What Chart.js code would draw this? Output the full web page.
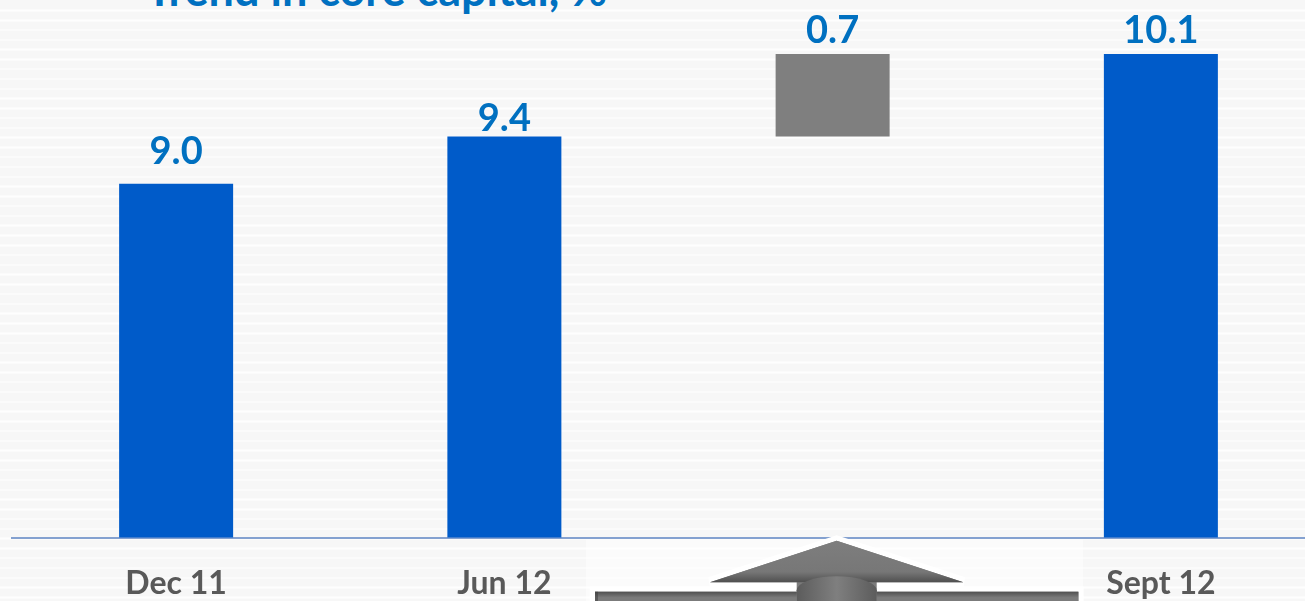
<!DOCTYPE html>
<html>
<head>
<meta charset="utf-8">
<title>Trend in core capital, %</title>
<script src="https://cdn.jsdelivr.net/npm/chart.js@4.4.1/dist/chart.umd.min.js"></script>
<style>
  html, body { margin: 0; padding: 0; width: 1305px; height: 601px; overflow: hidden; }
  body {
    position: relative;
    background-color: #f7f7f7;
    background-image: repeating-linear-gradient(to bottom,
      #f7f7f7 0px, #f7f7f7 8.3px, #fefefe 8.3px, #fefefe 9.78px);
    background-position: 0 1.5px;
  }
  #title {
    position: absolute; left: 146px; top: -33px;
    font: bold 45px Lato, "Open Sans", sans-serif; line-height: 45px;
    color: #0070c0; white-space: nowrap;
  }
  #chart { position: absolute; left: 0; top: 0; }
</style>
</head>
<body>
<div id="title">Trend in core capital, %</div>
<canvas id="chart" width="1330" height="630"></canvas>
<script>
// Core capital ratio by period, %
const categories = ['Dec 11', 'Jun 12', '', 'Sept 12'];
const coreCapital = [9.0, 9.4, null, 10.1];
// Change between Jun 12 and Sept 12, drawn as a floating step
const change = [null, null, 0.7, null];

const changeBars = change.map((v, i) => v == null ? null : [coreCapital[i - 1], coreCapital[i - 1] + v]);

// Figures written above each bar
const valueLabels = {
  id: 'valueLabels',
  afterDatasetsDraw(chart, args, opts) {
    const ctx = chart.ctx;
    ctx.save();
    ctx.font = opts.font;
    ctx.fillStyle = opts.color;
    ctx.textAlign = 'center';
    ctx.textBaseline = 'alphabetic';
    chart.data.datasets.forEach((ds, di) => {
      const meta = chart.getDatasetMeta(di);
      meta.data.forEach((bar, i) => {
        const v = ds.labelValues[i];
        if (v == null) return;
        ctx.fillText(v.toFixed(1), bar.x, bar.y - opts.gaps[i]);
      });
    });
    ctx.restore();
  }
};

// Pale panel and grey upward arrow under the change column
const arrowDecor = {
  id: 'arrowDecor',
  afterDraw(chart) {
    const ctx = chart.ctx;
    const cx = 836.7;
    const apexY = 540.7, headY = 582.3, barY = 591.7, bottom = 612;
    const headHalf = 126.7, shaftHalf = 40, barHalf = 241.7;

    ctx.save();
    ctx.fillStyle = 'rgba(255,255,255,0.5)';
    ctx.fillRect(586, 539.5, 497, 70);

    const p = new Path2D();
    p.moveTo(cx, apexY);
    p.lineTo(cx + headHalf, headY);
    p.lineTo(cx + shaftHalf, headY);
    p.lineTo(cx + shaftHalf, barY);
    p.lineTo(cx + barHalf, barY);
    p.lineTo(cx + barHalf, bottom);
    p.lineTo(cx - barHalf, bottom);
    p.lineTo(cx - barHalf, barY);
    p.lineTo(cx - shaftHalf, barY);
    p.lineTo(cx - shaftHalf, headY);
    p.lineTo(cx - headHalf, headY);
    p.closePath();

    ctx.lineJoin = 'miter';
    ctx.miterLimit = 4;
    ctx.strokeStyle = '#ffffff';
    ctx.lineWidth = 10.5;
    ctx.stroke(p);
    ctx.fillStyle = '#7b7b7b';
    ctx.fill(p);

    // head shading, darker towards its base
    const head = new Path2D();
    head.moveTo(cx, apexY);
    head.lineTo(cx + headHalf, headY);
    head.lineTo(cx - headHalf, headY);
    head.closePath();
    const hg = ctx.createLinearGradient(0, apexY, 0, headY);
    hg.addColorStop(0, '#7e7e7e');
    hg.addColorStop(0.75, '#777777');
    hg.addColorStop(1, '#4f4f4f');
    ctx.fillStyle = hg;
    ctx.fill(head);

    // shaft, rounded look
    const sg = ctx.createLinearGradient(cx - shaftHalf, 0, cx + shaftHalf, 0);
    sg.addColorStop(0, '#5c5c5c');
    sg.addColorStop(0.5, '#7f7f7f');
    sg.addColorStop(1, '#5c5c5c');
    ctx.fillStyle = sg;
    ctx.beginPath();
    ctx.ellipse(cx, headY + 8, shaftHalf, 14, 0, 0, Math.PI * 2);
    ctx.fill();
    ctx.fillRect(cx - shaftHalf, headY + 8, shaftHalf * 2, bottom - headY);

    // base bar with a bevelled top edge
    const bg = ctx.createLinearGradient(0, barY, 0, barY + 6);
    bg.addColorStop(0, '#505050');
    bg.addColorStop(1, '#7b7b7b');
    ctx.fillStyle = bg;
    ctx.fillRect(cx - barHalf, barY, barHalf - shaftHalf, bottom - barY);
    ctx.fillRect(cx + shaftHalf, barY, barHalf - shaftHalf, bottom - barY);
    ctx.fillStyle = 'rgba(60,60,60,0.5)';
    ctx.fillRect(cx - barHalf, barY, 3, bottom - barY);
    ctx.restore();
  }
};

function draw() {
  new Chart(document.getElementById('chart'), {
    type: 'bar',
    data: {
      labels: categories,
      datasets: [
        {
          label: 'Core capital',
          data: coreCapital,
          labelValues: coreCapital,
          backgroundColor: '#005bc9'
        },
        {
          label: 'Change',
          data: changeBars,
          labelValues: change,
          backgroundColor: '#7f7f7f'
        }
      ]
    },
    options: {
      responsive: false,
      animation: false,
      devicePixelRatio: 1,
      layout: { padding: { left: 12, right: 5, top: 1, bottom: 0 } },
      datasets: {
        bar: { grouped: false, barPercentage: 0.3473, categoryPercentage: 1, borderWidth: 0 }
      },
      scales: {
        x: {
          grid: { display: false, drawTicks: false },
          border: { display: true, color: '#84a1d0', width: 2 },
          ticks: {
            color: '#595959',
            padding: 28.6,
            font: { family: 'Lato', weight: 'bold', size: 32, lineHeight: 1.1 }
          }
        },
        y: {
          display: false,
          min: 6,
          max: 10.55
        }
      },
      plugins: {
        legend: { display: false },
        tooltip: { enabled: false },
        title: { display: false },
        valueLabels: {
          font: 'bold 38px Lato',
          color: '#0070c0',
          gaps: [20, 6, 11, 11]
        }
      }
    },
    plugins: [valueLabels, arrowDecor]
  });
}

if (document.fonts && document.fonts.load) {
  document.fonts.load('bold 38px Lato').then(draw, draw);
} else {
  draw();
}
</script>
</body>
</html>
